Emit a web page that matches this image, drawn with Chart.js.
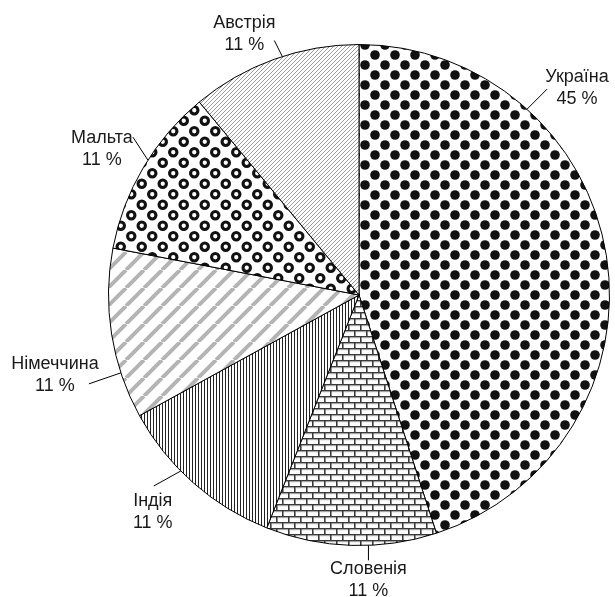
<!DOCTYPE html>
<html>
<head>
<meta charset="utf-8">
<script src="https://cdn.jsdelivr.net/npm/chart.js@4.4.0/dist/chart.umd.min.js"></script>
<style>
  html, body { margin: 0; padding: 0; background: #fff; }
  #wrap { width: 615px; height: 597px; }
</style>
</head>
<body>
<div id="wrap"><canvas id="pie" width="615" height="597"></canvas></div>
<script>
// countries, clockwise from 12 o'clock
const countries = ['Україна', 'Словенія', 'Індія', 'Німеччина', 'Мальта', 'Австрія'];
// share, %
const shares = [45, 11, 11, 11, 11, 11];

// where each callout sits: t = position of the leader inside the slice (0..1),
// lx/ly = leader vector, tx/ty = text centre relative to leader end
const callouts = [
  { t: 0.26, lx: 20,  ly: -20, tx: 30,  ty: -12 },
  { t: 0.40, lx: 0,   ly: 15,  tx: 0,   ty: 9 },
  { t: 0.60, lx: -27, ly: 15,  tx: -1,  ty: 15 },
  { t: 0.27, lx: -32, ly: 11,  tx: -34, ty: -20 },
  { t: 0.55, lx: -15, ly: -23, tx: -31, ty: 1 },
  { t: 0.55, lx: -8,  ly: -16, tx: -30, ty: -17 }
];

// --- fill patterns (black & white print style) ---
function makePattern(w, h, draw) {
  const c = document.createElement('canvas');
  c.width = w; c.height = h;
  const g = c.getContext('2d');
  g.fillStyle = '#fff';
  g.fillRect(0, 0, w, h);
  draw(g, w, h);
  return g.createPattern(c, 'repeat');
}

const ctx = document.getElementById('pie').getContext('2d');

// big black dots
const dots = makePattern(20, 20, (g) => {
  g.fillStyle = '#111';
  [[5, 5], [15, 15]].forEach(([x, y]) => {
    g.beginPath(); g.arc(x, y, 4.8, 0, Math.PI * 2); g.fill();
  });
  // wrap-around pieces not needed: dots stay inside the tile
});

// bricks
const bricks = makePattern(12, 12, (g) => {
  g.fillStyle = '#3a3a3a';
  g.fillRect(0, 0, 12, 1.6);
  g.fillRect(0, 6, 12, 1.6);
  g.fillRect(0, 0, 1.6, 6);
  g.fillRect(6, 6, 1.6, 6);
  g.fillStyle = '#d4d4d4';
  g.fillRect(1.6, 1.6, 10.4, 0.8);
  g.fillRect(0, 7.6, 6, 0.8);
  g.fillRect(7.6, 7.6, 4.4, 0.8);
});

// thin vertical lines
const vlines = makePattern(3, 3, (g) => {
  g.fillStyle = '#222';
  g.fillRect(0, 0, 1, 3);
});

// wide grey diagonal stripes
const stripes = makePattern(18, 18, (g) => {
  g.strokeStyle = '#b4b4b4';
  g.lineWidth = 4;
  g.beginPath();
  for (let k = -1; k <= 2; k++) {
    g.moveTo(k * 18 - 18, 18); g.lineTo(k * 18, 0);
  }
  g.stroke();
});

// rings
const rings = makePattern(21, 21, (g) => {
  g.strokeStyle = '#111';
  g.lineWidth = 3.1;
  [[5.25, 5.25], [15.75, 15.75]].forEach(([x, y]) => {
    g.beginPath(); g.arc(x, y, 3.7, 0, Math.PI * 2); g.stroke();
  });
});

// fine diagonal hatch
const hatch = makePattern(4, 4, (g) => {
  g.strokeStyle = '#808080';
  g.lineWidth = 0.8;
  g.beginPath();
  g.moveTo(-1, 5); g.lineTo(5, -1);
  g.moveTo(-1, 1); g.lineTo(1, -1);
  g.moveTo(3, 5); g.lineTo(5, 3);
  g.stroke();
});

const fills = [dots, bricks, vlines, stripes, rings, hatch];

// labels with leader lines
const calloutPlugin = {
  id: 'callouts',
  afterDatasetsDraw(chart) {
    const c = chart.ctx;
    const meta = chart.getDatasetMeta(0);
    const total = shares.reduce((a, b) => a + b, 0);
    c.save();
    c.strokeStyle = '#000';
    c.lineWidth = 1;
    c.fillStyle = '#1a1a1a';
    c.font = '18px "Liberation Sans", Arial, sans-serif';
    c.textAlign = 'center';
    c.textBaseline = 'middle';
    meta.data.forEach((arc, i) => {
      const p = arc.getProps(['x', 'y', 'startAngle', 'endAngle', 'outerRadius'], true);
      const o = callouts[i];
      const a = p.startAngle + o.t * (p.endAngle - p.startAngle);
      const x0 = p.x + p.outerRadius * Math.cos(a);
      const y0 = p.y + p.outerRadius * Math.sin(a);
      const x1 = x0 + o.lx, y1 = y0 + o.ly;
      c.beginPath(); c.moveTo(x0, y0); c.lineTo(x1, y1); c.stroke();
      const pct = Math.round(shares[i] / total * 100) + ' %';
      c.fillText(countries[i], x1 + o.tx, y1 + o.ty);
      c.fillText(pct, x1 + o.tx, y1 + o.ty + 22);
    });
    c.restore();
  }
};

new Chart(ctx, {
  type: 'pie',
  data: {
    labels: countries,
    datasets: [{
      data: shares,
      backgroundColor: fills,
      borderColor: '#000',
      borderWidth: 1
    }]
  },
  options: {
    responsive: false,
    animation: false,
    layout: { padding: { left: 108, top: 44, right: 5, bottom: 51 } },
    plugins: {
      legend: { display: false },
      tooltip: { enabled: false }
    }
  },
  plugins: [calloutPlugin]
});
</script>
</body>
</html>
